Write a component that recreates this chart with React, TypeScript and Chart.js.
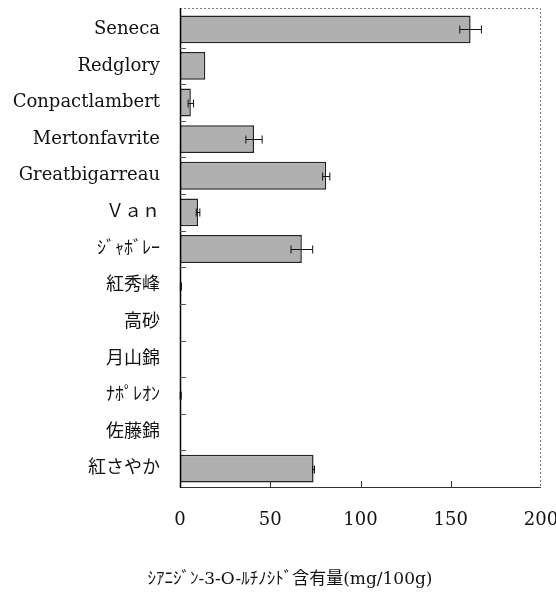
import React, { useEffect, useRef } from "react";
import { Chart, registerables } from "chart.js";

Chart.register(...registerables);

const categories = [
  "Seneca",
  "Redglory",
  "Conpactlambert",
  "Mertonfavrite",
  "Greatbigarreau",
  "Ｖａｎ",
  "ｼﾞｬﾎﾞﾚｰ",
  "紅秀峰",
  "高砂",
  "月山錦",
  "ﾅﾎﾟﾚｵﾝ",
  "佐藤錦",
  "紅さやか",
];
const values = [161, 14, 6, 41, 81, 10, 67.5, 0.5, 0.3, 0.2, 0.4, 0.3, 74];
const errors = [6, 0, 1.5, 4.5, 2, 1, 6, 0.3, 0, 0, 0.3, 0, 0.5];
const xTicks = [0, 50, 100, 150, 200];
const axisTitle = "ｼｱﾆｼﾞﾝ-3-O-ﾙﾁﾉｼﾄﾞ含有量(mg/100g)";

const LATIN = '"DejaVu Serif", "Noto Sans CJK JP", serif';
const FRAME_EXTRA = 3;

const decorPlugin = {
  id: "decor",
  afterDatasetsDraw(chart: any) {
    const { ctx, chartArea: a, scales } = chart;
    const x = scales.x;
    const y = scales.y;
    const top = a.top - FRAME_EXTRA;
    ctx.save();
    // dotted frame top/right
    ctx.strokeStyle = "#777";
    ctx.lineWidth = 1;
    ctx.setLineDash([2, 2]);
    ctx.beginPath();
    ctx.moveTo(a.left, top + 0.5);
    ctx.lineTo(a.right - 0.5, top + 0.5);
    ctx.lineTo(a.right - 0.5, a.bottom);
    ctx.stroke();
    ctx.setLineDash([]);
    // bottom axis
    ctx.strokeStyle = "#333";
    ctx.beginPath();
    ctx.moveTo(a.left, a.bottom + 0.5);
    ctx.lineTo(a.right, a.bottom + 0.5);
    ctx.stroke();
    // left axis
    ctx.strokeStyle = "#000";
    ctx.lineWidth = 1.5;
    ctx.beginPath();
    ctx.moveTo(a.left + 0.5, top);
    ctx.lineTo(a.left + 0.5, a.bottom + 1);
    ctx.stroke();
    // inward ticks on y axis (category boundaries)
    ctx.lineWidth = 1;
    ctx.strokeStyle = "#555";
    const n = categories.length;
    const step = (a.bottom - a.top) / n;
    for (let i = 1; i < n; i++) {
      const yy = Math.round(a.top + step * i) + 0.5;
      ctx.beginPath();
      ctx.moveTo(a.left, yy);
      ctx.lineTo(a.left + 6, yy);
      ctx.stroke();
    }
    // inward ticks on x axis
    ctx.strokeStyle = "#333";
    for (const t of xTicks) {
      if (t === 0 || t === 200) continue;
      const xx = Math.round(x.getPixelForValue(t)) + 0.5;
      ctx.beginPath();
      ctx.moveTo(xx, a.bottom);
      ctx.lineTo(xx, a.bottom - 6);
      ctx.stroke();
    }
    // error bars
    ctx.strokeStyle = "#111";
    ctx.lineWidth = 1;
    values.forEach((v, i) => {
      const e = errors[i];
      if (!e) return;
      const yc = Math.round(y.getPixelForValue(i)) + 0.5;
      const x1 = x.getPixelForValue(Math.max(0, v - e));
      const x2 = x.getPixelForValue(v + e);
      ctx.beginPath();
      ctx.moveTo(x1, yc);
      ctx.lineTo(x2, yc);
      ctx.moveTo(x1, yc - 4);
      ctx.lineTo(x1, yc + 4);
      ctx.moveTo(x2, yc - 4);
      ctx.lineTo(x2, yc + 4);
      ctx.stroke();
    });
    // axis title
    ctx.fillStyle = "#111";
    ctx.font = `17px ${LATIN}`;
    ctx.textAlign = "center";
    ctx.textBaseline = "middle";
    ctx.fillText(axisTitle, 290, 580);
    ctx.restore();
  },
};

export default function App() {
  const ref = useRef<HTMLCanvasElement | null>(null);
  useEffect(() => {
    if (!ref.current) return;
    const chart = new Chart(ref.current, {
      type: "bar",
      data: {
        labels: categories,
        datasets: [
          {
            data: values,
            backgroundColor: "#b0b0b0",
            borderColor: "#222",
            borderWidth: 1.5,
            borderSkipped: false,
            barPercentage: 0.76,
            categoryPercentage: 1,
          },
        ],
      },
      options: {
        indexAxis: "y",
        responsive: false,
        animation: false,
        layout: { padding: { left: 0, top: 8 + FRAME_EXTRA, right: 15, bottom: 0 } },
        plugins: { legend: { display: false }, tooltip: { enabled: false }, title: { display: false } },
        scales: {
          x: {
            min: 0,
            max: 200,
            afterBuildTicks: (s: any) => {
              s.ticks = xTicks.map((v) => ({ value: v }));
            },
            afterFit: (s: any) => {
              s.height = 105;
              s.paddingLeft = 0;
              s.paddingRight = 0;
            },
            grid: { display: false, drawTicks: false },
            border: { display: false },
            ticks: {
              padding: 23,
              color: "#111",
              font: { family: LATIN, size: 18 },
              maxRotation: 0,
            },
          },
          y: {
            afterFit: (s: any) => {
              s.width = 180;
              s.paddingTop = 0;
              s.paddingBottom = 0;
            },
            grid: { display: false, drawTicks: false },
            border: { display: false },
            ticks: {
              padding: 20,
              color: "#111",
              font: { family: LATIN, size: 18 },
            },
          },
        },
      },
      plugins: [decorPlugin],
    });
    return () => chart.destroy();
  }, []);
  return (
    <canvas
      ref={ref}
      width={556}
      height={592}
      style={{ position: "absolute", left: 0, top: 0, width: 556, height: 592 }}
    />
  );
}
